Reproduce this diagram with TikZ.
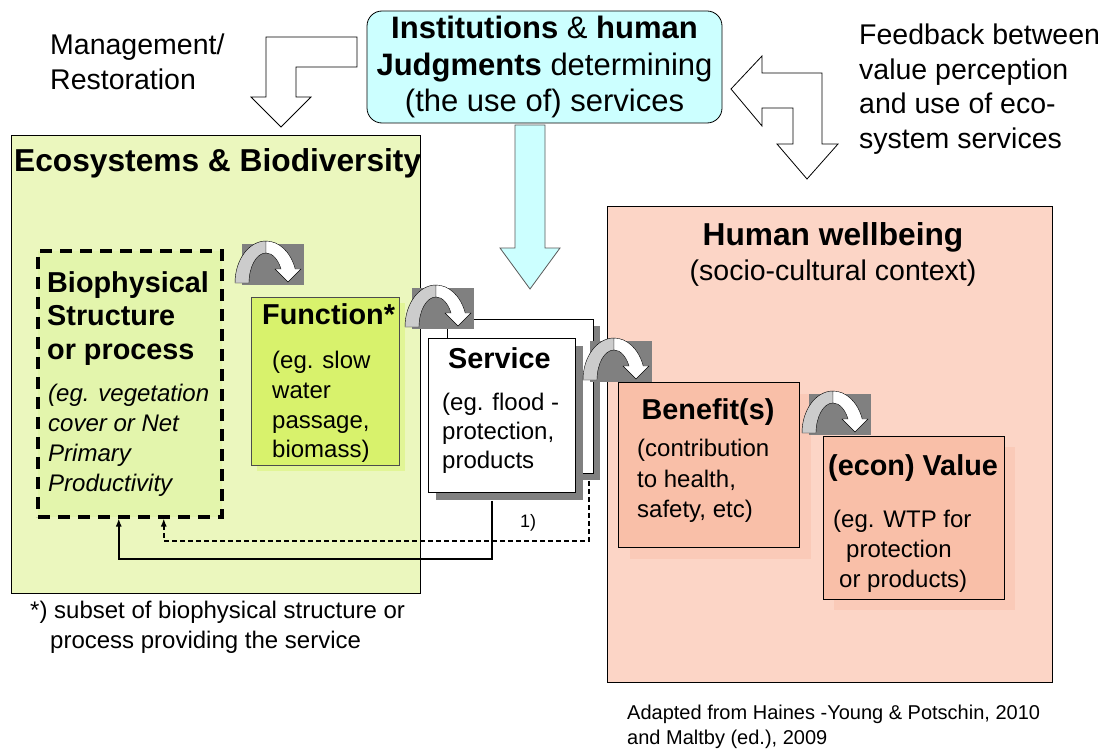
\documentclass[tikz,border=0pt]{standalone}
\usepackage{fontspec}
\setmainfont{Liberation Sans}
\usetikzlibrary{calc,shadows,arrows.meta}

\definecolor{ecogreen}{RGB}{235,247,190}
\definecolor{biogreen}{RGB}{227,245,172}
\definecolor{fngreen}{RGB}{216,242,108}
\definecolor{fnshade}{RGB}{225,245,150}
\definecolor{instcyan}{RGB}{204,255,255}
\definecolor{wellpink}{RGB}{252,213,198}
\definecolor{benpink}{RGB}{249,191,168}
\definecolor{benshade}{RGB}{250,202,184}
\definecolor{turngrey}{RGB}{128,128,128}
\definecolor{turnband}{RGB}{204,204,204}

\tikzset{
  turn/.pic={
    \fill[turngrey] (0,0) rectangle (62,41);
    \draw[fill=turnband] (-7,39) arc[start angle=180, end angle=270, x radius=31, y radius=42] -- (24,9)
      arc[start angle=270, end angle=180, x radius=17, y radius=30] -- cycle;
    \draw[fill=white] (24,-3) arc[start angle=270, end angle=340.5, x radius=31, y radius=42] -- (59,25) -- (46,38) -- (33,25) -- (39,25)
      arc[start angle=332.2, end angle=270, x radius=17, y radius=30] -- cycle;
  }
}

\begin{document}
\begin{tikzpicture}[x=1pt, y=-1pt,
    box/.style={rectangle, draw, line width=0.8pt, inner sep=0, anchor=north west},
    sh/.style 2 args={general shadow={fill=#1, draw=none, shadow xshift=#2, shadow yshift=-#2}},
    blockarrow/.style={draw, line width=0.8pt, line join=miter},
    sect/.style={font=\fontsize{31.7}{36}\selectfont\bfseries, inner sep=0},
    head/.style={font=\fontsize{28.8}{33.5}\selectfont\bfseries, inner sep=0},
    side/.style={font=\fontsize{28.5}{34.5}\selectfont, align=left, inner sep=0, anchor=north west},
    txt/.style={font=\fontsize{24}{29.8}\selectfont, align=left, inner sep=0, anchor=north west},
    link/.style={line width=1.5pt, -{Latex[length=8pt,width=6pt]}}
  ]
  \fill[white] (0,0) rectangle (1110,749);
  \useasboundingbox (0,0) rectangle (1110,749);

  \node[box, fill=ecogreen, minimum width=409, minimum height=458] (eco) at (11,135) {};
  \node[box, fill=wellpink, minimum width=445, minimum height=476] (well) at (607,206) {};

  \node[box, anchor=center, fill=instcyan, rounded corners=15, minimum width=355, minimum height=112,
    font=\fontsize{31}{36.5}\selectfont, align=center] (inst) at (544.5,67)
    {\textbf{Institutions} \& \textbf{human}\\\textbf{Judgments} determining\\(the use of) services};

  \draw[blockarrow, fill=white] (266,37) -- (357,37) -- (357,67) -- (296,67) -- (296,97) -- (311,97) -- (281,127) -- (251,97) -- (266,97) -- cycle;
  \draw[blockarrow, fill=instcyan, draw=black!65] (515,125) -- (545,125) -- (545,248) -- (560,248) -- (530,289) -- (500,248) -- (515,248) -- cycle;
  \draw[blockarrow, fill=white] (731,89) -- (762,56) -- (762,73) -- (822,73) -- (822,144) -- (838,144) -- (807,179) -- (777,144) -- (793,144) -- (793,108) -- (762,108) -- (762,126) -- cycle;

  \node[box, fill=biogreen, line width=3.5pt, dash pattern=on 12pt off 8pt, minimum width=184, minimum height=266] (bio) at (36,249) {};
  \node[box, fill=fngreen, draw=black!70, sh={fnshade}{6pt}, minimum width=148, minimum height=168] (function) at (251,297) {};
  \node[box, fill=white, sh={turngrey}{7pt}, minimum width=146, minimum height=154] (back) at (447,319) {};
  \node[box, fill=white, sh={turngrey}{8pt}, minimum width=147, minimum height=154] (service) at (428,338) {};
  \node[box, fill=benpink, sh={benshade}{12pt}, minimum width=181, minimum height=165] (benefit) at (618,382) {};
  \node[box, fill=benpink, sh={benshade}{11pt}, minimum width=181, minimum height=163] (value) at (823,436) {};

  \draw[link] ($(service.south)+(-10,8)$) -- ++(0,58) -| ($(bio.south)+(-11,0)$);
  \draw[link, dash pattern=on 5pt off 3pt] ($(back.south east)+(-5,7)$) -- ++(0,60) -| ($(bio.south)+(34,0)$);
  \node[font=\fontsize{18}{20}\selectfont, inner sep=0] (one) at (528,523) {1)};

  \pic (t1) at (242,244) {turn};
  \pic (t2) at (412,288) {turn};
  \pic (t3) at (590,341) {turn};
  \pic (t4) at (809,394) {turn};

  \node[side] (mgmt) at (50,34) {Management/\\Restoration};
  \node[side] (feedback) at (859,24) {Feedback between\\value perception\\and use of eco-\\system services};
  \node[sect, anchor=west] (ecotitle) at (14,163) {Ecosystems \& Biodiversity};
  \node[sect] (welltitle) at (833,237) {Human wellbeing};
  \node[font=\fontsize{28.5}{33}\selectfont, inner sep=0] (wellsub) at (833,273) {(socio-cultural context)};

  \node[head, align=left, anchor=north west] (biohead) at (47,271) {Biophysical\\Structure\\or process};
  \node[txt, font=\fontsize{24}{30}\selectfont\itshape] (biotext) at (48,384) {(eg. vegetation\\cover or Net\\Primary\\Productivity};
  \node[head, anchor=west] (fnhead) at (262,314) {Function*};
  \node[txt] (fntext) at (272,351) {(eg. slow\\water\\passage,\\biomass)};
  \node[head, anchor=west] (servhead) at (448,358) {Service};
  \node[txt, font=\fontsize{24}{29}\selectfont] (servtext) at (442,393) {(eg. flood -\\protection,\\products};
  \node[head] (benhead) at (708,412) {Benefit(s)};
  \node[txt, font=\fontsize{24}{30.5}\selectfont] (bentext) at (637,439) {(contribution\\to health,\\safety, etc)};
  \node[head, anchor=west] (valhead) at (828,468) {(econ) Value};
  \node[txt] (valtext) at (833,510) {(eg. WTP for\\\hspace*{13pt}protection\\\hspace*{6pt}or products)};

  \node[txt, font=\fontsize{24}{30}\selectfont] (note) at (30,601) {*) subset of biophysical structure or\\\hspace*{20pt}process providing the service};
  \node[txt, font=\fontsize{20}{24.5}\selectfont] (source) at (627,705) {Adapted from Haines -Young \& Potschin, 2010\\and Maltby (ed.), 2009};
\end{tikzpicture}
\end{document}
